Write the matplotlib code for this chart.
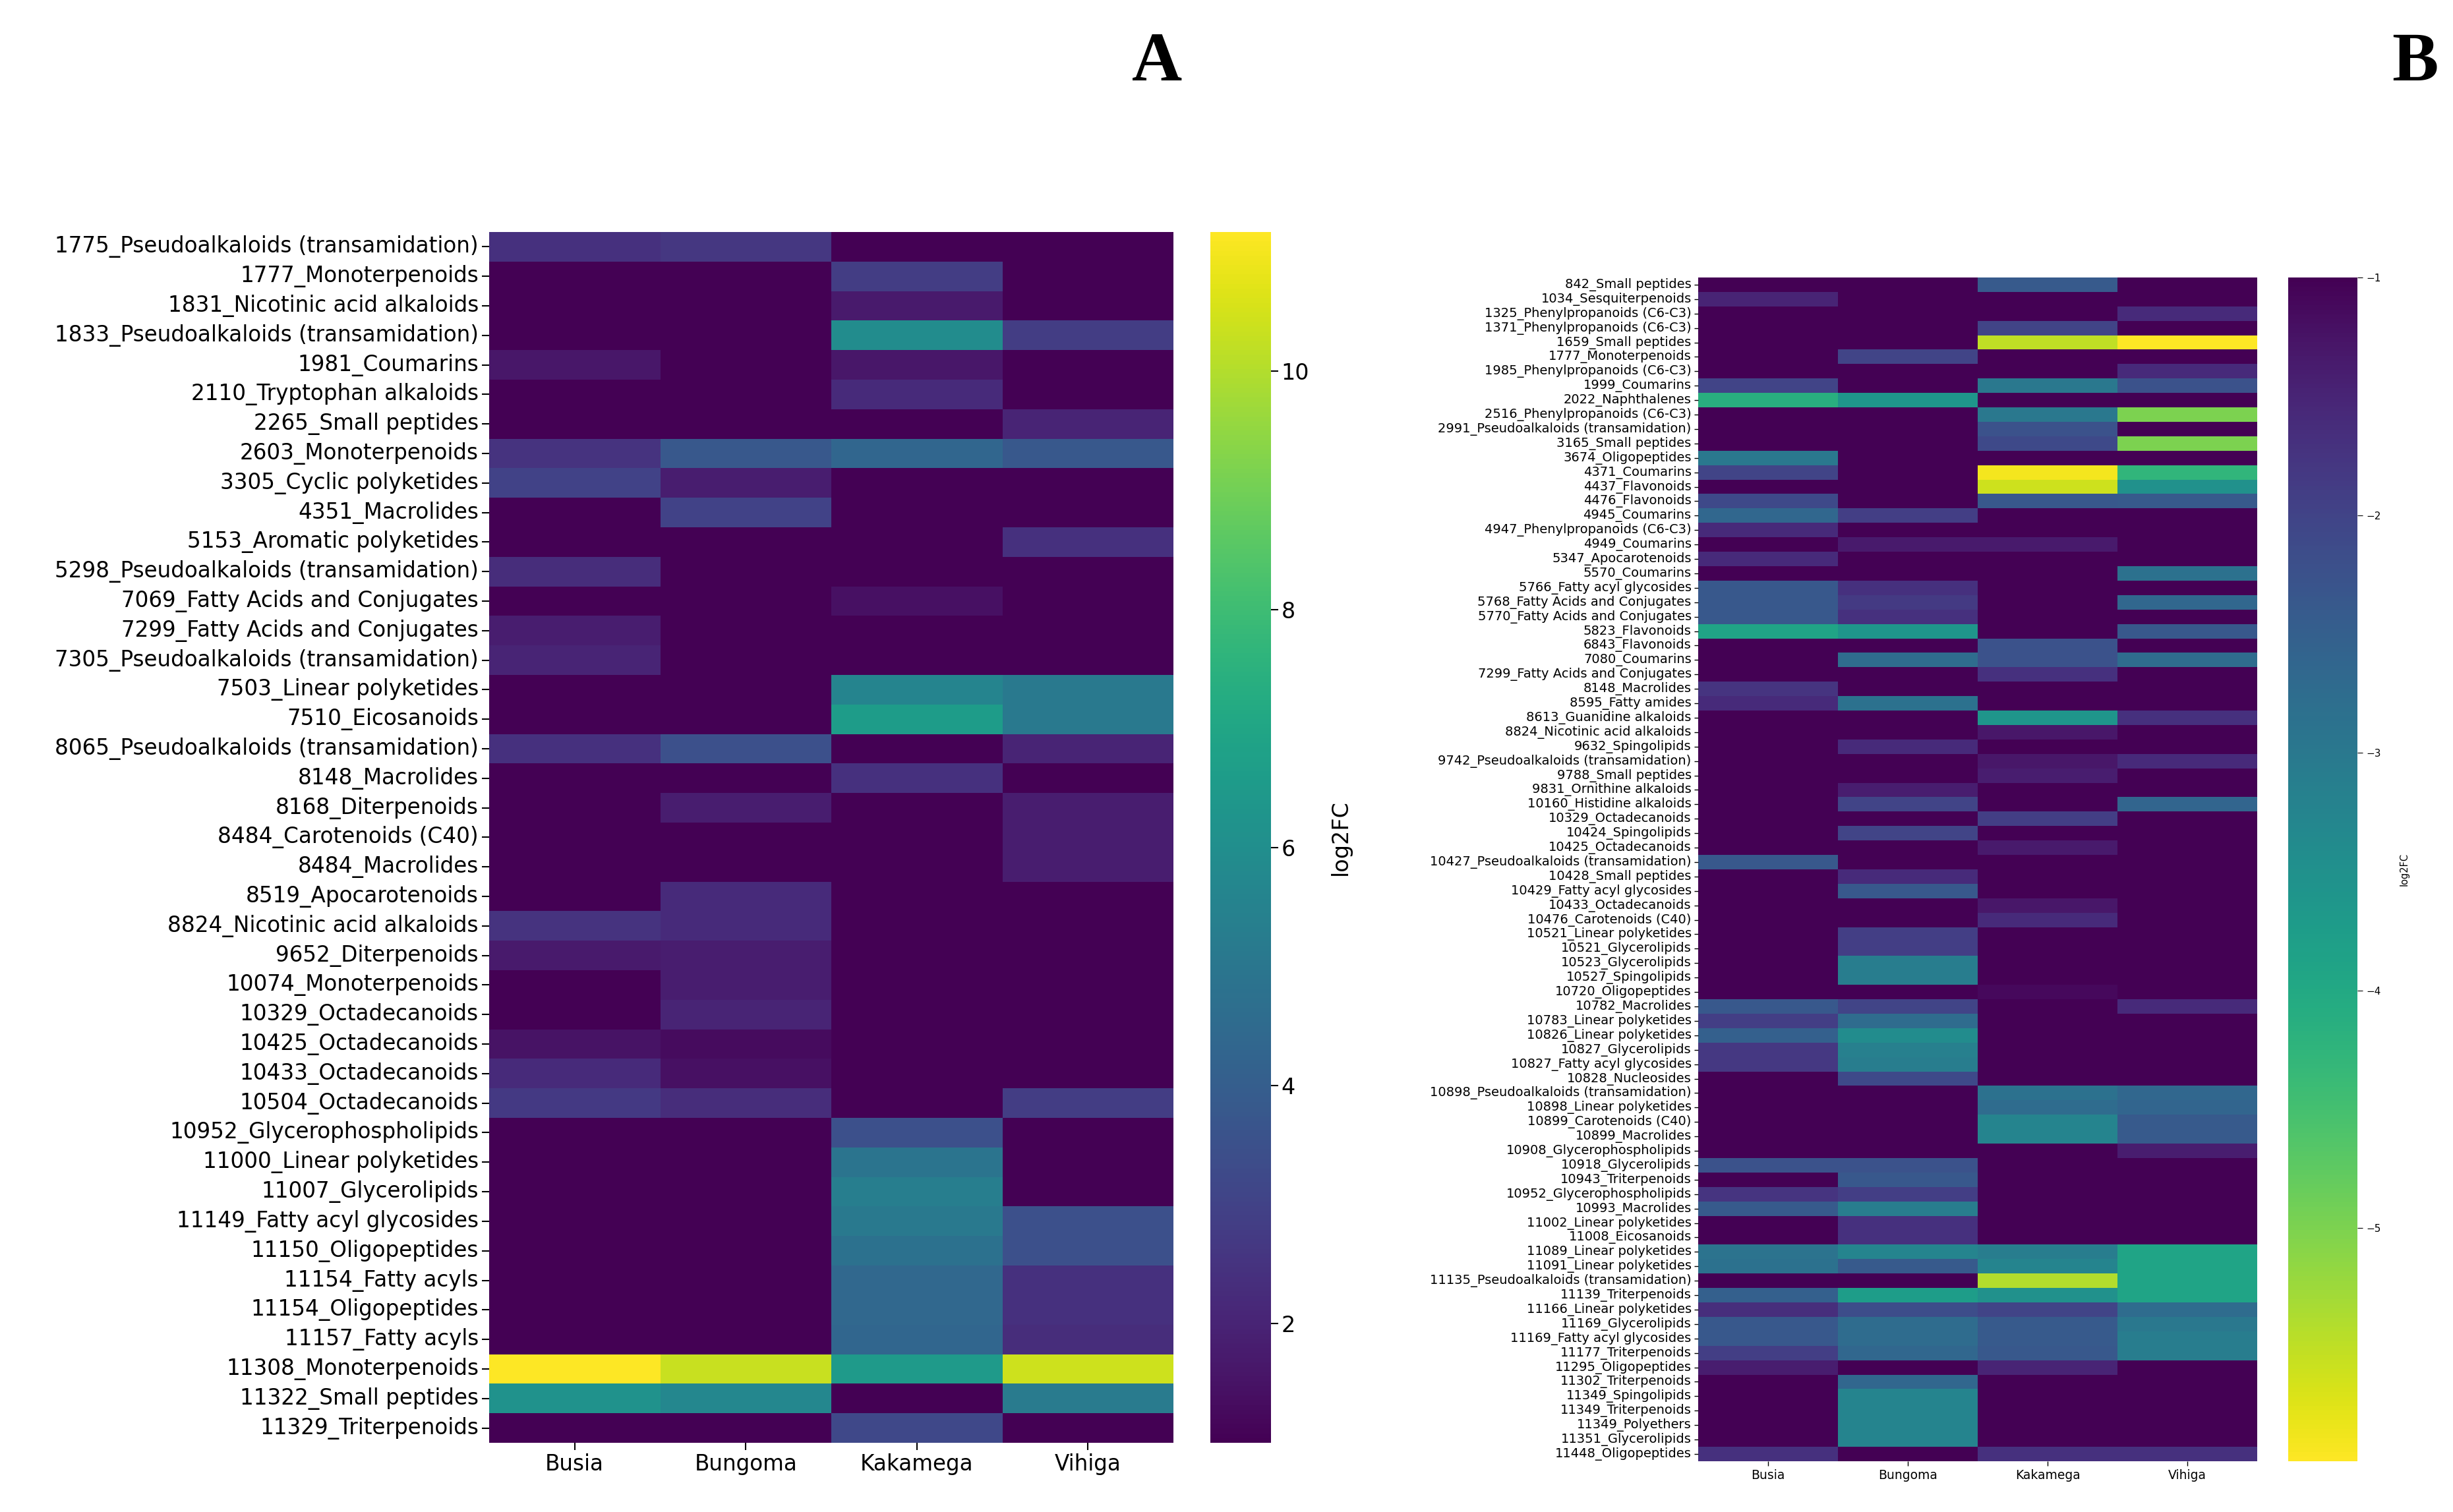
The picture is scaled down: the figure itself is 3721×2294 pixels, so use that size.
import matplotlib
matplotlib.use("Agg")
import matplotlib.pyplot as plt
import seaborn as sns
import pandas as pd

sites = ["Busia", "Bungoma", "Kakamega", "Vihiga"]

# ---- panel A: up-regulated metabolites (log2FC) ----
a_labels = [
    "1775_Pseudoalkaloids (transamidation)", "1777_Monoterpenoids", "1831_Nicotinic acid alkaloids",
    "1833_Pseudoalkaloids (transamidation)", "1981_Coumarins", "2110_Tryptophan alkaloids",
    "2265_Small peptides", "2603_Monoterpenoids", "3305_Cyclic polyketides", "4351_Macrolides",
    "5153_Aromatic polyketides", "5298_Pseudoalkaloids (transamidation)", "7069_Fatty Acids and Conjugates",
    "7299_Fatty Acids and Conjugates", "7305_Pseudoalkaloids (transamidation)", "7503_Linear polyketides",
    "7510_Eicosanoids", "8065_Pseudoalkaloids (transamidation)", "8148_Macrolides", "8168_Diterpenoids",
    "8484_Carotenoids (C40)", "8484_Macrolides", "8519_Apocarotenoids", "8824_Nicotinic acid alkaloids",
    "9652_Diterpenoids", "10074_Monoterpenoids", "10329_Octadecanoids", "10425_Octadecanoids",
    "10433_Octadecanoids", "10504_Octadecanoids", "10952_Glycerophospholipids", "11000_Linear polyketides",
    "11007_Glycerolipids", "11149_Fatty acyl glycosides", "11150_Oligopeptides", "11154_Fatty acyls",
    "11154_Oligopeptides", "11157_Fatty acyls", "11308_Monoterpenoids", "11322_Small peptides",
    "11329_Triterpenoids",
]
a_busia = [2.4, 1, 1, 1, 1.6, 1, 1, 2.5, 3.0, 1, 1, 2.3, 1, 1.8, 2.0, 1, 1, 2.4, 1, 1, 1,
           1, 1, 2.5, 1.7, 1, 1, 1.5, 2.2, 2.7, 1, 1, 1, 1, 1, 1, 1, 1, 11.17, 6.2, 1]
a_bungoma = [2.6, 1, 1, 1, 1, 1, 1, 3.75, 1.8, 3.0, 1, 1, 1, 1, 1, 1, 1, 3.5, 1, 1.8, 1,
             1, 2.2, 2.2, 1.8, 1.8, 2.0, 1.3, 1.4, 2.3, 1, 1, 1, 1, 1, 1, 1, 1, 10.3, 5.7, 1]
a_kakamega = [1, 2.8, 1.7, 5.9, 1.6, 2.2, 1, 4.3, 1, 1, 1, 1, 1.4, 1, 1, 5.6, 6.6, 1, 2.4, 1, 1,
              1, 1, 1, 1, 1, 1, 1, 1, 1, 3.5, 4.9, 5.3, 5.1, 4.8, 4.4, 4.4, 4.3, 6.5, 1, 3.2]
a_vihiga = [1, 1, 1, 2.8, 1, 1, 2.0, 3.75, 1, 1, 2.4, 1, 1, 1, 1, 5.1, 5.1, 2.0, 1, 1.8, 1.8,
            1.8, 1, 1, 1, 1, 1, 1, 1, 2.8, 1, 1, 1, 3.5, 3.5, 2.4, 2.4, 2.3, 10.4, 5.2, 1]

# ---- panel B: down-regulated metabolites (log2FC) ----
b_labels = [
    "842_Small peptides", "1034_Sesquiterpenoids", "1325_Phenylpropanoids (C6-C3)",
    "1371_Phenylpropanoids (C6-C3)", "1659_Small peptides", "1777_Monoterpenoids",
    "1985_Phenylpropanoids (C6-C3)", "1999_Coumarins", "2022_Naphthalenes",
    "2516_Phenylpropanoids (C6-C3)", "2991_Pseudoalkaloids (transamidation)", "3165_Small peptides",
    "3674_Oligopeptides", "4371_Coumarins", "4437_Flavonoids", "4476_Flavonoids", "4945_Coumarins",
    "4947_Phenylpropanoids (C6-C3)", "4949_Coumarins", "5347_Apocarotenoids", "5570_Coumarins",
    "5766_Fatty acyl glycosides", "5768_Fatty Acids and Conjugates", "5770_Fatty Acids and Conjugates",
    "5823_Flavonoids", "6843_Flavonoids", "7080_Coumarins", "7299_Fatty Acids and Conjugates",
    "8148_Macrolides", "8595_Fatty amides", "8613_Guanidine alkaloids", "8824_Nicotinic acid alkaloids",
    "9632_Spingolipids", "9742_Pseudoalkaloids (transamidation)", "9788_Small peptides",
    "9831_Ornithine alkaloids", "10160_Histidine alkaloids", "10329_Octadecanoids", "10424_Spingolipids",
    "10425_Octadecanoids", "10427_Pseudoalkaloids (transamidation)", "10428_Small peptides",
    "10429_Fatty acyl glycosides", "10433_Octadecanoids", "10476_Carotenoids (C40)",
    "10521_Linear polyketides", "10521_Glycerolipids", "10523_Glycerolipids", "10527_Spingolipids",
    "10720_Oligopeptides", "10782_Macrolides", "10783_Linear polyketides", "10826_Linear polyketides",
    "10827_Glycerolipids", "10827_Fatty acyl glycosides", "10828_Nucleosides",
    "10898_Pseudoalkaloids (transamidation)", "10898_Linear polyketides", "10899_Carotenoids (C40)",
    "10899_Macrolides", "10908_Glycerophospholipids", "10918_Glycerolipids", "10943_Triterpenoids",
    "10952_Glycerophospholipids", "10993_Macrolides", "11002_Linear polyketides", "11008_Eicosanoids",
    "11089_Linear polyketides", "11091_Linear polyketides", "11135_Pseudoalkaloids (transamidation)",
    "11139_Triterpenoids", "11166_Linear polyketides", "11169_Glycerolipids", "11169_Fatty acyl glycosides",
    "11177_Triterpenoids", "11295_Oligopeptides", "11302_Triterpenoids", "11349_Spingolipids",
    "11349_Triterpenoids", "11349_Polyethers", "11351_Glycerolipids", "11448_Oligopeptides",
]
b_busia = [-1, -1.5, -1, -1, -1, -1, -1, -2.0, -4.15, -1, -1, -1, -3.0, -2.0, -1, -2.1, -2.65,
           -1.6, -1, -1.6, -1, -2.35, -2.35, -2.35, -3.9, -1, -1, -1, -1.75, -1.6, -1, -1, -1, -1,
           -1, -1, -1, -1, -1, -1, -2.35, -1, -1, -1, -1, -1, -1, -1, -1, -1, -2.35, -1.9, -2.5,
           -1.8, -1.8, -1, -1, -1, -1, -1, -1, -2.25, -1, -1.75, -2.4, -1, -1, -2.9, -2.85, -1,
           -2.5, -1.65, -2.35, -2.35, -1.9, -1.4, -1, -1, -1, -1, -1, -1.7]
b_bungoma = [-1, -1, -1, -1, -1, -2.0, -1, -1, -3.6, -1, -1, -1, -1, -1, -1, -1, -1.9,
             -1, -1.35, -1, -1, -1.7, -1.85, -1.7, -3.6, -1, -2.75, -1, -1, -2.85, -1, -1, -1.6,
             -1, -1, -1.4, -2.0, -1, -2.0, -1, -1, -1.6, -2.35, -1, -1, -1.9, -1.9, -3.1, -3.1,
             -1, -2.0, -2.75, -3.4, -3.15, -3.1, -2.1, -1, -1, -1, -1, -1, -2.25, -2.35, -1.9,
             -3.1, -1.7, -1.7, -3.25, -2.4, -1, -3.75, -2.15, -2.75, -2.75, -2.65, -1, -2.65,
             -3.25, -3.25, -3.25, -3.25, -1]
b_kakamega = [-2.4, -1, -1, -2.0, -5.5, -1, -1, -3.0, -1, -3.0, -2.25, -2.1, -1, -5.9, -5.6,
              -2.35, -1, -1, -1.35, -1, -1, -1, -1, -1, -1, -2.25, -2.25, -1.7, -1, -1, -3.6,
              -1.3, -1, -1.3, -1.4, -1, -1, -1.9, -1, -1.35, -1, -1, -1, -1.3, -1.6, -1, -1, -1,
              -1, -1.1, -1, -1, -1, -1, -1, -1, -2.85, -2.75, -3.25, -3.25, -1, -1, -1, -1, -1,
              -1, -1, -3.1, -3.25, -5.4, -3.5, -2.0, -2.4, -2.4, -2.35, -1.5, -1, -1, -1, -1,
              -1, -1.7]
b_vihiga = [-1, -1, -1.6, -1, -5.98, -1, -1.6, -2.25, -1, -5.0, -1, -5.0, -1, -4.25, -3.5,
            -2.4, -1, -1, -1, -1, -2.85, -1, -2.65, -1, -2.35, -1, -2.75, -1, -1, -1, -1.7, -1,
            -1, -1.6, -1, -1, -2.6, -1, -1, -1, -1, -1, -1, -1, -1, -1, -1, -1, -1, -1, -1.6, -1,
            -1, -1, -1, -1, -2.65, -2.6, -2.4, -2.4, -1.4, -1, -1, -1, -1, -1, -1, -3.9, -3.9,
            -3.9, -3.9, -2.75, -3.0, -3.1, -3.1, -1, -1, -1, -1, -1, -1, -1.7]

df_a = pd.DataFrame({"Busia": a_busia, "Bungoma": a_bungoma,
                     "Kakamega": a_kakamega, "Vihiga": a_vihiga}, index=a_labels)[sites]
df_b = pd.DataFrame({"Busia": b_busia, "Bungoma": b_bungoma,
                     "Kakamega": b_kakamega, "Vihiga": b_vihiga}, index=b_labels)[sites]

fig = plt.figure(figsize=(37.21, 22.94), dpi=100)

# panel A
ax_a = fig.add_axes([0.1994, 0.0458, 0.2790, 0.8008])
cax_a = fig.add_axes([0.4934, 0.0458, 0.0247, 0.8008])
sns.heatmap(df_a, ax=ax_a, cbar_ax=cax_a, cmap="viridis",
            xticklabels=True, yticklabels=True)
ax_a.tick_params(axis="both", labelsize=23.5, length=8, width=1.5)
plt.setp(ax_a.get_yticklabels(), rotation=0)
plt.setp(ax_a.get_xticklabels(), rotation=0)
cax_a.tick_params(labelsize=24, length=8, width=1.5)
cax_a.set_ylabel("log2FC", fontsize=24, labelpad=22)

# panel B
ax_b = fig.add_axes([0.6923, 0.0336, 0.2279, 0.7829])
cax_b = fig.add_axes([0.9328, 0.0336, 0.0282, 0.7829])
sns.heatmap(df_b, ax=ax_b, cbar_ax=cax_b, cmap="viridis_r",
            xticklabels=True, yticklabels=True)
ax_b.tick_params(axis="y", labelsize=14, length=4, width=1)
ax_b.tick_params(axis="x", labelsize=13.5, length=5, width=1)
plt.setp(ax_b.get_yticklabels(), rotation=0)
plt.setp(ax_b.get_xticklabels(), rotation=0)
cax_b.set_yticks([-1, -2, -3, -4, -5])
cax_b.tick_params(labelsize=11, length=6, width=0.8)
cax_b.set_ylabel("log2FC", fontsize=10.5, labelpad=20)

# panel letters
fig.text(0.4716, 0.958, "A", family="Liberation Serif", weight="bold",
         fontsize=76, ha="center", va="center")
fig.text(0.9844, 0.958, "B", family="Liberation Serif", weight="bold",
         fontsize=76, ha="center", va="center")

fig.savefig("out.png", dpi=100, facecolor="white")
